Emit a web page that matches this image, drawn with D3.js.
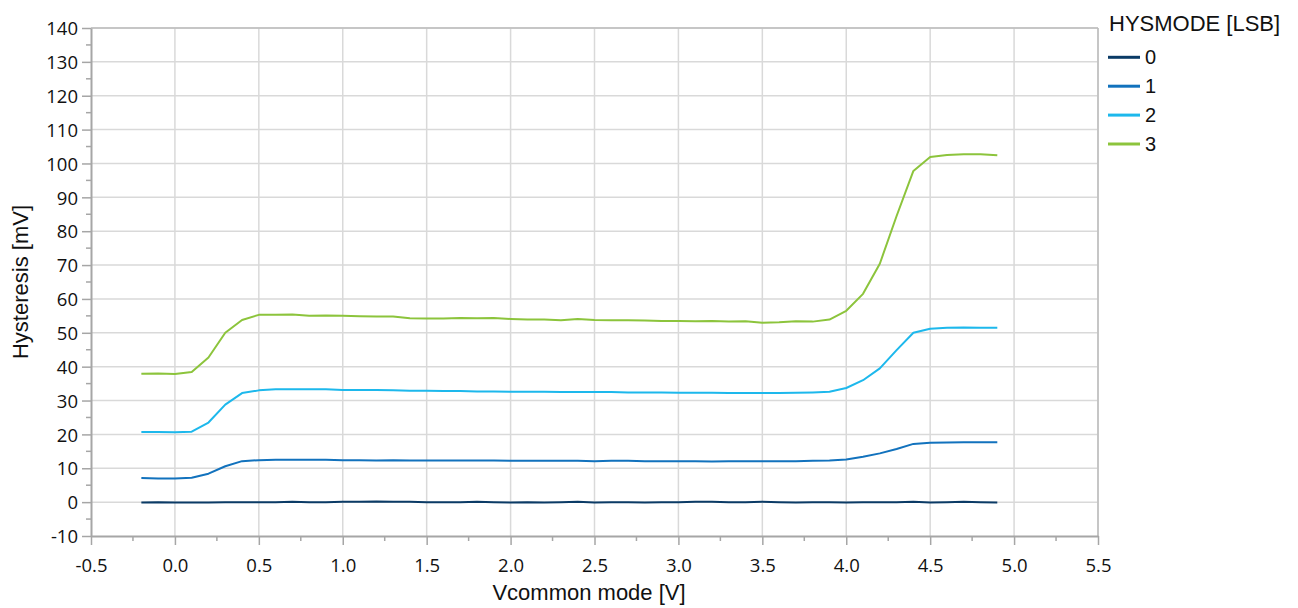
<!DOCTYPE html>
<html><head><meta charset="utf-8">
<script src="https://cdn.jsdelivr.net/npm/d3@7"></script>
<style>body{margin:0;background:#fff}svg{display:block}</style>
</head><body><svg id="c" width="1298" height="608"></svg>
<script>
const xVals = [-0.2,-0.1,0.0,0.1,0.2,0.3,0.4,0.5,0.6,0.7,0.8,0.9,1.0,1.1,1.2,1.3,1.4,1.5,1.6,1.7,1.8,1.9,2.0,2.1,2.2,2.3,2.4,2.5,2.6,2.7,2.8,2.9,3.0,3.1,3.2,3.3,3.4,3.5,3.6,3.7,3.8,3.9,4.0,4.1,4.2,4.3,4.4,4.5,4.6,4.7,4.8,4.9];
const hys0 = [-0.1,0.0,-0.1,-0.1,-0.1,0.0,0.0,0.0,0.0,0.1,0.0,0.0,0.1,0.1,0.2,0.1,0.1,0.0,0.0,0.0,0.1,0.0,-0.1,0.0,-0.1,0.0,0.1,-0.1,0.0,0.0,-0.1,0.0,0.0,0.1,0.1,0.0,0.0,0.1,0.0,-0.1,0.0,0.0,-0.1,0.0,0.0,0.0,0.1,-0.1,0.0,0.1,0.0,-0.1];
const hys1 = [7.1,7.0,7.0,7.2,8.4,10.6,12.1,12.4,12.5,12.5,12.5,12.5,12.4,12.4,12.3,12.4,12.3,12.3,12.3,12.3,12.3,12.3,12.2,12.2,12.2,12.2,12.2,12.1,12.2,12.2,12.1,12.1,12.1,12.1,12.0,12.1,12.1,12.1,12.1,12.1,12.2,12.3,12.6,13.4,14.4,15.7,17.2,17.5,17.6,17.7,17.7,17.7];
const hys2 = [20.7,20.7,20.6,20.8,23.5,28.8,32.2,33.0,33.3,33.3,33.3,33.3,33.1,33.1,33.1,33.0,32.9,32.9,32.8,32.8,32.7,32.7,32.6,32.6,32.6,32.5,32.5,32.5,32.5,32.4,32.4,32.4,32.3,32.3,32.3,32.2,32.2,32.2,32.2,32.3,32.4,32.6,33.7,36.0,39.5,44.9,50.0,51.2,51.5,51.6,51.5,51.5];
const hys3 = [37.9,38.0,37.8,38.4,42.7,50.0,53.8,55.3,55.3,55.4,55.0,55.1,55.0,54.9,54.8,54.8,54.3,54.2,54.2,54.4,54.3,54.4,54.1,53.9,53.9,53.7,54.1,53.8,53.7,53.7,53.6,53.5,53.5,53.4,53.5,53.3,53.4,53.0,53.1,53.4,53.3,53.9,56.5,61.5,70.4,84.5,97.8,101.9,102.5,102.7,102.7,102.4];
const seriesNames = ["0","1","2","3"];
const seriesColors = ["#0b3b66","#1272bd","#1db8ec","#8cc43c"];
const xTicks = [-0.5,0.0,0.5,1.0,1.5,2.0,2.5,3.0,3.5,4.0,4.5,5.0,5.5];
const yTicks = [-10,0,10,20,30,40,50,60,70,80,90,100,110,120,130,140];
const allSeries = [hys0,hys1,hys2,hys3];

const svg = d3.select("#c");
const L=91, R=1098, T=28, B=536;
const x = d3.scaleLinear().domain([-0.5,5.5]).range([L,R]);
const y = d3.scaleLinear().domain([-10,140]).range([B,T]);
const tickFont = "'Open Sans','Noto Sans',sans-serif";
const arial = "'Liberation Sans',Arial,sans-serif";

// grid
svg.append("g").selectAll("line").data(xTicks.slice(1)).join("line")
  .attr("x1",d=>x(d)).attr("x2",d=>x(d)).attr("y1",T).attr("y2",B)
  .attr("stroke","#d9d9d9").attr("stroke-width",1.5);
svg.append("g").selectAll("line").data(yTicks.slice(1)).join("line")
  .attr("x1",L).attr("x2",R).attr("y1",d=>y(d)).attr("y2",d=>y(d))
  .attr("stroke","#d9d9d9").attr("stroke-width",1.5);
// frame top/right
svg.append("line").attr("x1",L).attr("x2",R).attr("y1",T).attr("y2",T).attr("stroke","#bdbdbd").attr("stroke-width",1.5);
svg.append("line").attr("x1",R).attr("x2",R).attr("y1",T).attr("y2",B).attr("stroke","#bdbdbd").attr("stroke-width",1.5);

// minor ticks
const xMinor = d3.range(-0.25,5.5,0.5);
svg.append("g").selectAll("line").data(xMinor).join("line")
  .attr("x1",d=>x(d)).attr("x2",d=>x(d)).attr("y1",B).attr("y2",B+5)
  .attr("stroke","#a6a6a6").attr("stroke-width",1.5);
const yMinor = d3.range(-5,140,10);
svg.append("g").selectAll("line").data(yMinor).join("line")
  .attr("x1",L-5).attr("x2",L).attr("y1",d=>y(d)).attr("y2",d=>y(d))
  .attr("stroke","#a6a6a6").attr("stroke-width",1.5);

// axes
const fmtX = d => d3.format(".1f")(d).replace("\u2212","-");
const fmtY = d => String(d);
const xAxis = d3.axisBottom(x).tickValues(xTicks).tickFormat(fmtX).tickSize(9).tickSizeOuter(0);
const gx = svg.append("g").attr("transform",`translate(0,${B})`).call(xAxis);
const yAxis = d3.axisLeft(y).tickValues(yTicks).tickFormat(fmtY).tickSize(9).tickSizeOuter(0);
const gy = svg.append("g").attr("transform",`translate(${L},0)`).call(yAxis);
[gx,gy].forEach(g=>{
  g.select(".domain").attr("stroke","#a6a6a6").attr("stroke-width",2);
  g.selectAll(".tick line").attr("stroke","#a6a6a6").attr("stroke-width",1.5);
  g.selectAll(".tick text").attr("fill","#111").style("font-family",tickFont).style("font-size","18.5px");
});
gx.selectAll(".tick text").attr("dy","0").attr("y",36);
gy.selectAll(".tick text").attr("x",-13).attr("dy","0.36em");

// lines
const line = d3.line().x((d,i)=>x(xVals[i])).y(d=>y(d));
svg.append("g").selectAll("path").data(allSeries).join("path")
  .attr("d",d=>line(d)).attr("fill","none")
  .attr("stroke",(d,i)=>seriesColors[i]).attr("stroke-width",2).attr("stroke-linejoin","round");

// axis titles
svg.append("text").attr("x",589).attr("y",600).attr("text-anchor","middle")
  .style("font-family",arial).style("font-size","22px").attr("fill","#111").text("Vcommon mode [V]");
svg.append("text").attr("transform",`translate(28,282) rotate(-90)`).attr("text-anchor","middle")
  .style("font-family",arial).style("font-size","22px").attr("fill","#111").text("Hysteresis [mV]");

// legend
const lg = svg.append("g");
lg.append("text").attr("x",1109).attr("y",31).style("font-family",arial)
  .style("font-size","22px").attr("fill","#111").text("HYSMODE [LSB]");
const items = lg.selectAll("g.it").data(seriesNames).join("g").attr("class","it")
  .attr("transform",(d,i)=>`translate(1108,${57.3+i*28.9})`);
items.append("line").attr("x1",0).attr("x2",32).attr("y1",0).attr("y2",0)
  .attr("stroke",(d,i)=>seriesColors[i]).attr("stroke-width",3);
items.append("text").attr("x",37).attr("y",7).style("font-family",arial)
  .style("font-size","20px").attr("fill","#111").text(d=>d);
</script></body></html>
